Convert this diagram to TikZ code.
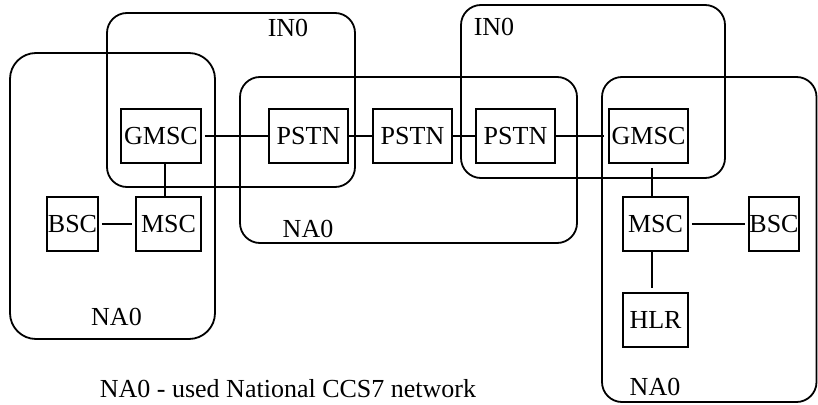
\documentclass[tikz,border=0pt]{standalone}
\usepackage{fontspec}
\setmainfont{Liberation Serif}
\usetikzlibrary{calc}
\begin{document}
\begin{tikzpicture}[x=1pt,y=-1pt,
  lw/.style={line width=1.8pt},
  unit/.style={draw,lw,fill=white,inner sep=0pt,minimum height=54pt,font=\fontsize{26}{30}\selectfont},
  grp/.style={draw,lw,rounded corners=20pt},
  lbl/.style={anchor=base,inner sep=0pt,font=\fontsize{26}{30}\selectfont},
  conn/.style={lw}]
\useasboundingbox (0,0) rectangle (818,404);
% group boxes
\draw[grp,rounded corners=26pt] (10,53) rectangle (215,339);
\draw[grp] (107,13) rectangle (355,187);
\draw[grp] (240,77) rectangle (577,243);
\draw[grp] (461,5) rectangle (725,178);
\draw[grp] (602,77) rectangle (816.5,402);
% group labels
\node[lbl] (in0a) at (288,37) {IN0};
\node[lbl] (in0b) at (494,36) {IN0};
\node[lbl] (na0a) at (116.5,325) {NA0};
\node[lbl] (na0b) at (308,237) {NA0};
\node[lbl] (na0c) at (655,395) {NA0};
\node[lbl] (cap) at (288,397) {NA0 - used National CCS7 network};
% units
\node[unit,minimum width=80pt] (gmscL) at (161,136) {GMSC};
\node[unit,minimum width=79pt] (pstnA) at (308.5,136) {PSTN};
\node[unit,minimum width=79pt] (pstnB) at (412.5,136) {PSTN};
\node[unit,minimum width=79pt] (pstnC) at (515.5,136) {PSTN};
\node[unit,minimum width=79pt] (gmscR) at (648.5,136) {GMSC};
\node[unit,minimum width=51pt] (bscL) at (72.5,224) {BSC};
\node[unit,minimum width=65pt] (mscL) at (168.5,224) {MSC};
\node[unit,minimum width=65pt] (mscR) at (655.5,224) {MSC};
\node[unit,minimum width=50pt] (bscR) at (774,224) {BSC};
\node[unit,minimum width=65pt] (hlr) at (655.5,320) {HLR};
% connectors
\draw[conn,shorten <=3pt] (gmscL) -- (pstnA);
\draw[conn] (pstnA) -- (pstnB);
\draw[conn] (pstnB) -- (pstnC);
\draw[conn,shorten >=4pt] (pstnC) -- (gmscR);
\draw[conn,shorten <=3pt,shorten >=3pt] (bscL) -- (mscL);
\draw[conn,shorten <=3pt,shorten >=3pt] (mscR) -- (bscR);
\draw[conn] ($(gmscL.south)+(4,0)$) -- ($(mscL.north)+(-3.5,0)$);
\draw[conn,shorten <=4pt] ($(gmscR.south)+(3.5,0)$) -- ($(mscR.north)+(-3.5,0)$);
\draw[conn,shorten >=4pt] ($(mscR.south)+(-3.5,0)$) -- ($(hlr.north)+(-3.5,0)$);
\end{tikzpicture}
\end{document}
